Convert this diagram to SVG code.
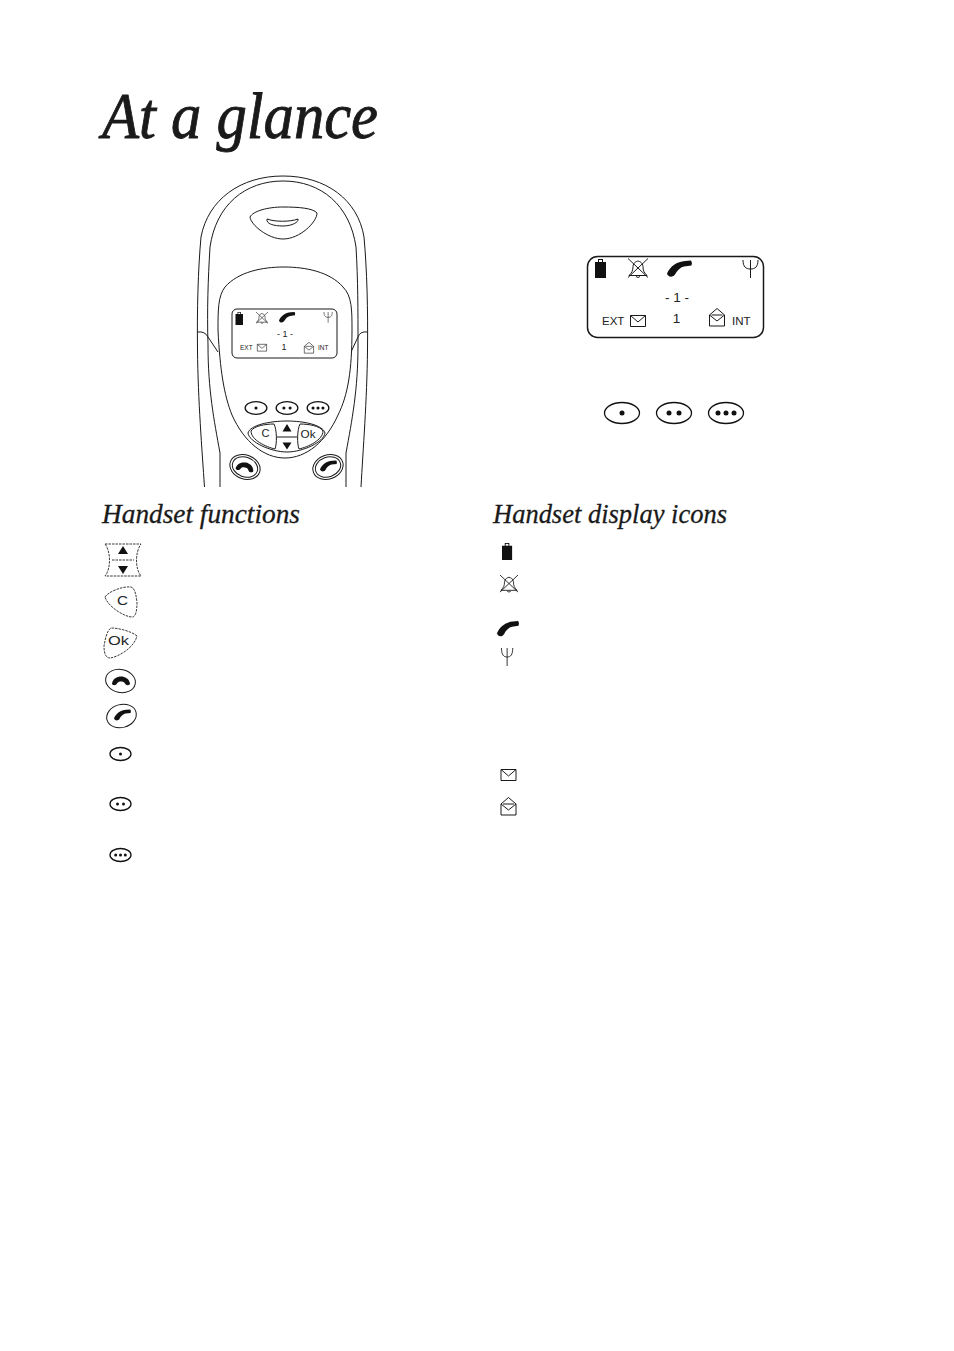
<svg xmlns="http://www.w3.org/2000/svg" xmlns:xlink="http://www.w3.org/1999/xlink" width="954" height="1351" viewBox="0 0 954 1351">
<style>
.l{fill:none;stroke:#1a1a1a;stroke-width:1}
.w{fill:#fff;stroke:#1a1a1a;stroke-width:1}
.k{fill:#111;stroke:none}
.d{fill:none;stroke:#222;stroke-width:.9;stroke-dasharray:2.500 1}
.b{fill:#fff;stroke:#111;stroke-width:1.300;vector-effect:non-scaling-stroke}
.h{font-family:"Liberation Serif",serif;font-style:italic;fill:#1a1a1a;stroke:#1a1a1a}
.s{font-family:"Liberation Sans",sans-serif;fill:#222}
</style>
<defs>
<g id="batt"><path class="k" d="M0 3H3V0H8V3H11V19H0Z"/><rect x="4" y="1" width="3" height="2" fill="#fff"/></g>
<g id="bell"><path class="l" d="M0 0L20 19M20 0L0 19M1 17H19C16 14 15 12 15 8C14.500 4 12 3 10 2.500C8 3 5.500 4 5 8C5 12 4 14 1 17ZM8 18Q10 20 12 18"/></g>
<path id="ph" class="k" d="M0 13C3 6 10 1 18 .5L24 0Q25.500 2 24.500 5L17 6C13 7 10 10 8 14C6 17 1 17 0 13Z"/>
<path id="hang" class="k" d="M0 7C1 2 5 0 9 0C13 0 17 2 18 7C18 9 14 9.500 13 7C12 5.500 11 5 9 5C7 5 6 5.500 5 7C4 9.500 0 9 0 7Z"/>
<path id="ant" class="l" d="M0 0C0 7 3 9 7.500 9C12 9 15 7 15 0M7.500 0V18"/>
<path id="env" class="l" d="M.5 .5H15.500V11.500H.5ZM.5 .5L8 7L15.500 .5"/>
<path id="oenv" class="l" d="M.5 7L8 .5L15.500 7V18H.5ZM.5 7L8 13L15.500 7M2.500 7H13.500"/>
<g id="b1"><ellipse class="b" rx="17.500" ry="10.500"/><circle class="k" r="2.500"/></g>
<g id="b2"><ellipse class="b" rx="17.500" ry="10.500"/><circle class="k" cx="-5" r="2.500"/><circle class="k" cx="5" r="2.500"/></g>
<g id="b3"><ellipse class="b" rx="17.500" ry="10.500"/><circle class="k" cx="-8" r="2.500"/><circle class="k" r="2.500"/><circle class="k" cx="8" r="2.500"/></g>
</defs>
<rect width="954" height="1351" fill="#fff"/>
<text id="title" class="h" x="102" y="138" font-size="66" stroke-width=".9" textLength="276" lengthAdjust="spacingAndGlyphs">At a glance</text>

<g id="handset">
<path class="l" d="M204.500 487C202 450 198 400 197.500 350C197 310 198 270 201 237C208 200 240 176 283 176C326 176 358 200 364 237C367 270 368 310 367.500 350C367 400 363 450 361 487"/>
<path class="l" d="M220 487V453C214 420 208 390 208 345C207 310 208 280 210 247C216 205 245 181 283 181C321 181 350 205 356 247C358 280 358 310 358 345C358 390 352 420 346 453V487"/>
<path class="l" d="M197.500 332Q205 331 208 337L218 352M367.500 332Q360 331 358 337L351 352"/>
<path class="w" d="M250 217C253 211 268 207 283 207C298 207 313 208 317 213C317 222 300 239 283 239C268 239 251 225 250 217Z"/>
<path class="l" d="M267 219C275 222 290 222 298 219C299 222 292 226 283 226C274 226 266 224 267 219Z"/>
<path class="w" d="M218 330C218 310 218 296 225 287C238 272 262 267 284 267C306 267 330 272 343 287C352 296 352 310 352 330C352 370 348 395 338 415C326 442 306 458 285 458C264 458 244 442 232 415C224 395 220 370 218 330Z"/>
<rect class="w" x="232" y="309" width="105" height="49" rx="5"/>
<use xlink:href="#batt" transform="translate(235.500 312) scale(.68)"/>
<g transform="translate(256 312) scale(.6)"><use xlink:href="#bell"/></g>
<use xlink:href="#ph" transform="translate(279 312) scale(.65)"/>
<use xlink:href="#ant" transform="translate(324 312) scale(.55 .6)"/>
<text class="s" x="285" y="337" font-size="9" text-anchor="middle">- 1 -</text>
<text class="s" x="240" y="350" font-size="6.500">EXT</text>
<use xlink:href="#env" transform="translate(257 344) scale(.62)"/>
<text class="s" x="284" y="350" font-size="9" text-anchor="middle">1</text>
<use xlink:href="#oenv" transform="translate(304 342) scale(.62)"/>
<text class="s" x="318" y="350" font-size="6.500">INT</text>
<use xlink:href="#b1" transform="translate(256 408) scale(.62 .6)"/>
<use xlink:href="#b2" transform="translate(287 408) scale(.62 .6)"/>
<use xlink:href="#b3" transform="translate(318 408) scale(.62 .6)"/>
<path class="w" d="M248 433C250 425 270 421 287 421C304 421 323 425 325 433C324 442 303 452 287 452C271 452 249 442 248 433Z" stroke-width="1.400"/>
<path class="w" d="M251 431C254 426 265 424 274 424C277 430 277 444 275 449C266 447 251 440 251 431Z" stroke-width="1.400"/>
<path class="w" d="M323 431C320 426 309 424 300 424C297 430 297 444 299 449C308 447 323 440 323 431Z" stroke-width="1.400"/>
<path class="l" d="M277 437H297"/>
<path class="k" d="M287 424L291.500 431.500H282.500ZM287 449.500L291.500 442.500H282.500Z"/>
<text class="s" x="261.500" y="437" font-size="11" textLength="8" lengthAdjust="spacingAndGlyphs">C</text>
<text class="s" x="300.500" y="437.500" font-size="10.500" textLength="15" lengthAdjust="spacingAndGlyphs">Ok</text>
<ellipse class="w" cx="245" cy="467" rx="15.500" ry="12" transform="rotate(20 245 467)" stroke-width="1.200"/>
<ellipse class="l" cx="245" cy="467" rx="13" ry="9.800" transform="rotate(20 245 467)" stroke="#777" stroke-width=".6"/>
<use xlink:href="#hang" transform="translate(236 462.500) rotate(10 9 4)"/>
<ellipse class="w" cx="328" cy="467" rx="15.500" ry="12" transform="rotate(-20 328 467)" stroke-width="1.200"/>
<ellipse class="l" cx="328" cy="467" rx="13" ry="9.800" transform="rotate(-20 328 467)" stroke="#777" stroke-width=".6"/>
<use xlink:href="#ph" transform="translate(320 460.500) scale(.68)"/>
</g>

<g id="display">
<rect x="587.500" y="256.500" width="176" height="81" rx="10" fill="#fff" stroke="#1a1a1a" stroke-width="1.500"/>
<use xlink:href="#batt" transform="translate(595 259)"/>
<use xlink:href="#bell" transform="translate(628 258.500)"/>
<use xlink:href="#ph" transform="translate(667 260.500)"/>
<use xlink:href="#ant" transform="translate(743 260)"/>
<text class="s" x="677" y="302" font-size="13.500" text-anchor="middle">- 1 -</text>
<text class="s" x="602" y="324.500" font-size="11.500">EXT</text>
<use xlink:href="#env" transform="translate(630 315)"/>
<text class="s" x="676.500" y="323" font-size="13.500" text-anchor="middle">1</text>
<use xlink:href="#oenv" transform="translate(709 308)"/>
<text class="s" x="732" y="324.500" font-size="11.500">INT</text>
</g>
<g id="softkeys">
<use xlink:href="#b1" x="622" y="413"/>
<use xlink:href="#b2" x="674" y="413"/>
<use xlink:href="#b3" x="726" y="413"/>
</g>

<g id="functions">
<text class="h" x="102" y="523" font-size="28" stroke-width=".3" textLength="198" lengthAdjust="spacingAndGlyphs">Handset functions</text>
<g id="f-nav">
<path class="d" d="M105 544H141C135 552 135 569 141 576H105C111 569 111 552 105 544ZM112 560H134"/>
<path class="k" d="M123 546L128 554H118ZM123 574L128 566H118Z"/>
</g>
<g id="f-c">
<path class="d" d="M105 597C108 592 122 586 131 587C135 588 136 595 137 602C137 610 136 617 132 617C125 617 108 607 105 597Z"/>
<text class="s" x="117" y="604.500" font-size="13" textLength="11" lengthAdjust="spacingAndGlyphs">C</text>
</g>
<g id="f-ok">
<path class="d" d="M137 636C131 631 118 628 111 628C107 630 105 640 104 646C104 654 106 658 110 658C118 657 134 648 137 636Z"/>
<text class="s" x="108" y="645" font-size="12" textLength="21" lengthAdjust="spacingAndGlyphs">Ok</text>
</g>
<g id="f-off">
<ellipse class="w" cx="120.500" cy="681" rx="15" ry="11.500" transform="rotate(12 120.500 681)" stroke-width="1.300"/>
<use xlink:href="#hang" transform="translate(112 676.500)"/>
</g>
<g id="f-on">
<ellipse class="w" cx="121.500" cy="716" rx="15" ry="11.500" transform="rotate(-15 121.500 716)" stroke-width="1.300"/>
<use xlink:href="#ph" transform="translate(114 709.500) scale(.68)"/>
</g>
<use id="f-1" xlink:href="#b1" transform="translate(120.500 754) scale(.6 .62)"/>
<use id="f-2" xlink:href="#b2" transform="translate(120.500 804) scale(.6 .62)"/>
<use id="f-3" xlink:href="#b3" transform="translate(120.500 855) scale(.6 .62)"/>
</g>

<g id="icons">
<text class="h" x="493" y="523" font-size="28" stroke-width=".3" textLength="234" lengthAdjust="spacingAndGlyphs">Handset display icons</text>
<use id="i-batt" xlink:href="#batt" transform="translate(502 543) scale(.92 .9)"/>
<use id="i-bell" xlink:href="#bell" transform="translate(500 575) scale(.9)"/>
<use id="i-ph" xlink:href="#ph" transform="translate(497 621) scale(.88 .94)"/>
<use id="i-ant" xlink:href="#ant" transform="translate(501.500 648) scale(.75 1)"/>
<use id="i-env" xlink:href="#env" transform="translate(500.500 769)"/>
<use id="i-oenv" xlink:href="#oenv" transform="translate(500.500 797)"/>
</g>
</svg>
